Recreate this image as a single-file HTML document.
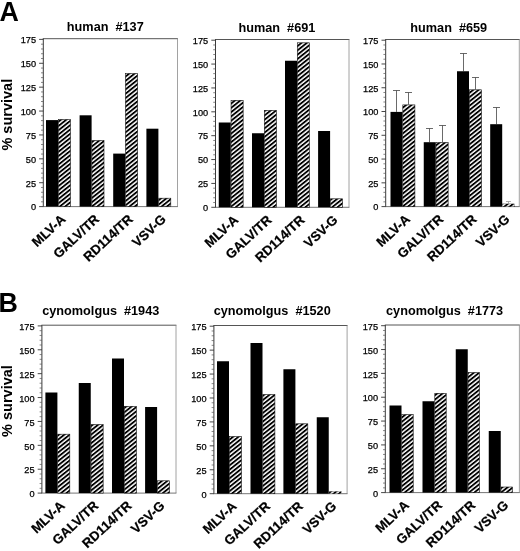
<!DOCTYPE html><html><head><meta charset="utf-8"><title>Figure</title>
<style>html,body{margin:0;padding:0;background:#fff}svg{display:block}text{font-family:"Liberation Sans", sans-serif;fill:#000}</style></head><body>
<svg width="520" height="551" viewBox="0 0 520 551">
<defs><pattern id="h" patternUnits="userSpaceOnUse" width="3.35" height="10" patternTransform="rotate(51.3)"><rect x="0" y="0" width="3.35" height="10" fill="#fff"/><rect x="0" y="0" width="1.85" height="10" fill="#000"/></pattern></defs>
<rect width="520" height="551" fill="#fff"/>
<text x="-0.5" y="20.8" font-size="26.8" font-weight="bold">A</text>
<text x="-1.4" y="311.6" font-size="26.8" font-weight="bold">B</text>
<text transform="translate(12.3,114.7) rotate(-90)" text-anchor="middle" font-size="14.5" font-weight="bold">% survival</text>
<text transform="translate(12.3,401) rotate(-90)" text-anchor="middle" font-size="14.5" font-weight="bold">% survival</text>
<g>
<text x="105.3" y="30.5" text-anchor="middle" font-size="12.7" font-weight="bold" xml:space="preserve" style="white-space:pre">human  #137</text>
<path d="M42.8 38.7H177.9" stroke="#555" stroke-width="1" fill="none"/>
<path d="M177.5 38.7V206.6" stroke="#8a8a8a" stroke-width="0.8" fill="none"/>
<path d="M42.8 206.6H177.9" stroke="#666" stroke-width="0.9" fill="none"/>
<path d="M43.3 38.7V206.6" stroke="#3a3a3a" stroke-width="1" fill="none"/>
<line x1="39.1" y1="206.6" x2="43.3" y2="206.6" stroke="#333" stroke-width="0.9"/>
<text x="36" y="210.4" text-anchor="end" font-size="9.2" stroke="#000" stroke-width="0.25">0</text>
<line x1="41" y1="201.823" x2="43.3" y2="201.823" stroke="#555" stroke-width="0.7"/>
<line x1="41" y1="197.046" x2="43.3" y2="197.046" stroke="#555" stroke-width="0.7"/>
<line x1="41" y1="192.269" x2="43.3" y2="192.269" stroke="#555" stroke-width="0.7"/>
<line x1="41" y1="187.491" x2="43.3" y2="187.491" stroke="#555" stroke-width="0.7"/>
<line x1="39.1" y1="182.714" x2="43.3" y2="182.714" stroke="#333" stroke-width="0.9"/>
<text x="36" y="186.514" text-anchor="end" font-size="9.2" stroke="#000" stroke-width="0.25">25</text>
<line x1="41" y1="177.937" x2="43.3" y2="177.937" stroke="#555" stroke-width="0.7"/>
<line x1="41" y1="173.16" x2="43.3" y2="173.16" stroke="#555" stroke-width="0.7"/>
<line x1="41" y1="168.383" x2="43.3" y2="168.383" stroke="#555" stroke-width="0.7"/>
<line x1="41" y1="163.606" x2="43.3" y2="163.606" stroke="#555" stroke-width="0.7"/>
<line x1="39.1" y1="158.829" x2="43.3" y2="158.829" stroke="#333" stroke-width="0.9"/>
<text x="36" y="162.629" text-anchor="end" font-size="9.2" stroke="#000" stroke-width="0.25">50</text>
<line x1="41" y1="154.051" x2="43.3" y2="154.051" stroke="#555" stroke-width="0.7"/>
<line x1="41" y1="149.274" x2="43.3" y2="149.274" stroke="#555" stroke-width="0.7"/>
<line x1="41" y1="144.497" x2="43.3" y2="144.497" stroke="#555" stroke-width="0.7"/>
<line x1="41" y1="139.72" x2="43.3" y2="139.72" stroke="#555" stroke-width="0.7"/>
<line x1="39.1" y1="134.943" x2="43.3" y2="134.943" stroke="#333" stroke-width="0.9"/>
<text x="36" y="138.743" text-anchor="end" font-size="9.2" stroke="#000" stroke-width="0.25">75</text>
<line x1="41" y1="130.166" x2="43.3" y2="130.166" stroke="#555" stroke-width="0.7"/>
<line x1="41" y1="125.389" x2="43.3" y2="125.389" stroke="#555" stroke-width="0.7"/>
<line x1="41" y1="120.611" x2="43.3" y2="120.611" stroke="#555" stroke-width="0.7"/>
<line x1="41" y1="115.834" x2="43.3" y2="115.834" stroke="#555" stroke-width="0.7"/>
<line x1="39.1" y1="111.057" x2="43.3" y2="111.057" stroke="#333" stroke-width="0.9"/>
<text x="36" y="114.857" text-anchor="end" font-size="9.2" stroke="#000" stroke-width="0.25">100</text>
<line x1="41" y1="106.28" x2="43.3" y2="106.28" stroke="#555" stroke-width="0.7"/>
<line x1="41" y1="101.503" x2="43.3" y2="101.503" stroke="#555" stroke-width="0.7"/>
<line x1="41" y1="96.7257" x2="43.3" y2="96.7257" stroke="#555" stroke-width="0.7"/>
<line x1="41" y1="91.9486" x2="43.3" y2="91.9486" stroke="#555" stroke-width="0.7"/>
<line x1="39.1" y1="87.1714" x2="43.3" y2="87.1714" stroke="#333" stroke-width="0.9"/>
<text x="36" y="90.9714" text-anchor="end" font-size="9.2" stroke="#000" stroke-width="0.25">125</text>
<line x1="41" y1="82.3943" x2="43.3" y2="82.3943" stroke="#555" stroke-width="0.7"/>
<line x1="41" y1="77.6171" x2="43.3" y2="77.6171" stroke="#555" stroke-width="0.7"/>
<line x1="41" y1="72.84" x2="43.3" y2="72.84" stroke="#555" stroke-width="0.7"/>
<line x1="41" y1="68.0629" x2="43.3" y2="68.0629" stroke="#555" stroke-width="0.7"/>
<line x1="39.1" y1="63.2857" x2="43.3" y2="63.2857" stroke="#333" stroke-width="0.9"/>
<text x="36" y="67.0857" text-anchor="end" font-size="9.2" stroke="#000" stroke-width="0.25">150</text>
<line x1="41" y1="58.5086" x2="43.3" y2="58.5086" stroke="#555" stroke-width="0.7"/>
<line x1="41" y1="53.7314" x2="43.3" y2="53.7314" stroke="#555" stroke-width="0.7"/>
<line x1="41" y1="48.9543" x2="43.3" y2="48.9543" stroke="#555" stroke-width="0.7"/>
<line x1="41" y1="44.1771" x2="43.3" y2="44.1771" stroke="#555" stroke-width="0.7"/>
<line x1="39.1" y1="39.4" x2="43.3" y2="39.4" stroke="#333" stroke-width="0.9"/>
<text x="36" y="43.2" text-anchor="end" font-size="9.2" stroke="#000" stroke-width="0.25">175</text>
<rect x="46" y="120.1" width="12" height="86.5" fill="#000"/>
<rect x="58.3" y="119.5" width="12.1" height="87.1" fill="url(#h)" stroke="#111" stroke-width="0.6"/>
<text transform="translate(66.4,220.2) rotate(-43)" text-anchor="end" font-size="13.2" stroke="#000" stroke-width="0.25" font-weight="bold">MLV-A</text>
<rect x="79.6" y="115.3" width="12" height="91.3" fill="#000"/>
<rect x="91.9" y="140.5" width="12.1" height="66.1" fill="url(#h)" stroke="#111" stroke-width="0.6"/>
<text transform="translate(100,220.2) rotate(-43)" text-anchor="end" font-size="13.2" stroke="#000" stroke-width="0.25" font-weight="bold">GALV/TR</text>
<rect x="113.2" y="153.6" width="12" height="53" fill="#000"/>
<rect x="125.5" y="73.5" width="12.1" height="133.1" fill="url(#h)" stroke="#111" stroke-width="0.6"/>
<text transform="translate(133.6,220.2) rotate(-43)" text-anchor="end" font-size="13.2" stroke="#000" stroke-width="0.25" font-weight="bold">RD114/TR</text>
<rect x="146.4" y="128.7" width="12" height="77.9" fill="#000"/>
<rect x="158.7" y="198.2" width="12.1" height="8.4" fill="url(#h)" stroke="#111" stroke-width="0.6"/>
<text transform="translate(166.8,220.2) rotate(-43)" text-anchor="end" font-size="13.2" stroke="#000" stroke-width="0.25" font-weight="bold">VSV-G</text>
</g>
<g>
<text x="276.9" y="31.5" text-anchor="middle" font-size="12.7" font-weight="bold" xml:space="preserve" style="white-space:pre">human  #691</text>
<path d="M215 39.5H349.4" stroke="#555" stroke-width="1" fill="none"/>
<path d="M349 39.5V207.3" stroke="#8a8a8a" stroke-width="0.8" fill="none"/>
<path d="M215 207.3H349.4" stroke="#666" stroke-width="0.9" fill="none"/>
<path d="M215.5 39.5V207.3" stroke="#3a3a3a" stroke-width="1" fill="none"/>
<line x1="211.3" y1="207.3" x2="215.5" y2="207.3" stroke="#333" stroke-width="0.9"/>
<text x="208.2" y="211.1" text-anchor="end" font-size="9.2" stroke="#000" stroke-width="0.25">0</text>
<line x1="213.2" y1="202.526" x2="215.5" y2="202.526" stroke="#555" stroke-width="0.7"/>
<line x1="213.2" y1="197.751" x2="215.5" y2="197.751" stroke="#555" stroke-width="0.7"/>
<line x1="213.2" y1="192.977" x2="215.5" y2="192.977" stroke="#555" stroke-width="0.7"/>
<line x1="213.2" y1="188.203" x2="215.5" y2="188.203" stroke="#555" stroke-width="0.7"/>
<line x1="211.3" y1="183.429" x2="215.5" y2="183.429" stroke="#333" stroke-width="0.9"/>
<text x="208.2" y="187.229" text-anchor="end" font-size="9.2" stroke="#000" stroke-width="0.25">25</text>
<line x1="213.2" y1="178.654" x2="215.5" y2="178.654" stroke="#555" stroke-width="0.7"/>
<line x1="213.2" y1="173.88" x2="215.5" y2="173.88" stroke="#555" stroke-width="0.7"/>
<line x1="213.2" y1="169.106" x2="215.5" y2="169.106" stroke="#555" stroke-width="0.7"/>
<line x1="213.2" y1="164.331" x2="215.5" y2="164.331" stroke="#555" stroke-width="0.7"/>
<line x1="211.3" y1="159.557" x2="215.5" y2="159.557" stroke="#333" stroke-width="0.9"/>
<text x="208.2" y="163.357" text-anchor="end" font-size="9.2" stroke="#000" stroke-width="0.25">50</text>
<line x1="213.2" y1="154.783" x2="215.5" y2="154.783" stroke="#555" stroke-width="0.7"/>
<line x1="213.2" y1="150.009" x2="215.5" y2="150.009" stroke="#555" stroke-width="0.7"/>
<line x1="213.2" y1="145.234" x2="215.5" y2="145.234" stroke="#555" stroke-width="0.7"/>
<line x1="213.2" y1="140.46" x2="215.5" y2="140.46" stroke="#555" stroke-width="0.7"/>
<line x1="211.3" y1="135.686" x2="215.5" y2="135.686" stroke="#333" stroke-width="0.9"/>
<text x="208.2" y="139.486" text-anchor="end" font-size="9.2" stroke="#000" stroke-width="0.25">75</text>
<line x1="213.2" y1="130.911" x2="215.5" y2="130.911" stroke="#555" stroke-width="0.7"/>
<line x1="213.2" y1="126.137" x2="215.5" y2="126.137" stroke="#555" stroke-width="0.7"/>
<line x1="213.2" y1="121.363" x2="215.5" y2="121.363" stroke="#555" stroke-width="0.7"/>
<line x1="213.2" y1="116.589" x2="215.5" y2="116.589" stroke="#555" stroke-width="0.7"/>
<line x1="211.3" y1="111.814" x2="215.5" y2="111.814" stroke="#333" stroke-width="0.9"/>
<text x="208.2" y="115.614" text-anchor="end" font-size="9.2" stroke="#000" stroke-width="0.25">100</text>
<line x1="213.2" y1="107.04" x2="215.5" y2="107.04" stroke="#555" stroke-width="0.7"/>
<line x1="213.2" y1="102.266" x2="215.5" y2="102.266" stroke="#555" stroke-width="0.7"/>
<line x1="213.2" y1="97.4914" x2="215.5" y2="97.4914" stroke="#555" stroke-width="0.7"/>
<line x1="213.2" y1="92.7171" x2="215.5" y2="92.7171" stroke="#555" stroke-width="0.7"/>
<line x1="211.3" y1="87.9429" x2="215.5" y2="87.9429" stroke="#333" stroke-width="0.9"/>
<text x="208.2" y="91.7429" text-anchor="end" font-size="9.2" stroke="#000" stroke-width="0.25">125</text>
<line x1="213.2" y1="83.1686" x2="215.5" y2="83.1686" stroke="#555" stroke-width="0.7"/>
<line x1="213.2" y1="78.3943" x2="215.5" y2="78.3943" stroke="#555" stroke-width="0.7"/>
<line x1="213.2" y1="73.62" x2="215.5" y2="73.62" stroke="#555" stroke-width="0.7"/>
<line x1="213.2" y1="68.8457" x2="215.5" y2="68.8457" stroke="#555" stroke-width="0.7"/>
<line x1="211.3" y1="64.0714" x2="215.5" y2="64.0714" stroke="#333" stroke-width="0.9"/>
<text x="208.2" y="67.8714" text-anchor="end" font-size="9.2" stroke="#000" stroke-width="0.25">150</text>
<line x1="213.2" y1="59.2971" x2="215.5" y2="59.2971" stroke="#555" stroke-width="0.7"/>
<line x1="213.2" y1="54.5229" x2="215.5" y2="54.5229" stroke="#555" stroke-width="0.7"/>
<line x1="213.2" y1="49.7486" x2="215.5" y2="49.7486" stroke="#555" stroke-width="0.7"/>
<line x1="213.2" y1="44.9743" x2="215.5" y2="44.9743" stroke="#555" stroke-width="0.7"/>
<line x1="211.3" y1="40.2" x2="215.5" y2="40.2" stroke="#333" stroke-width="0.9"/>
<text x="208.2" y="44" text-anchor="end" font-size="9.2" stroke="#000" stroke-width="0.25">175</text>
<rect x="218.75" y="122.5" width="12" height="84.8" fill="#000"/>
<rect x="231.05" y="100.3" width="12.1" height="107" fill="url(#h)" stroke="#111" stroke-width="0.6"/>
<text transform="translate(239.15,220.9) rotate(-43)" text-anchor="end" font-size="13.2" stroke="#000" stroke-width="0.25" font-weight="bold">MLV-A</text>
<rect x="252" y="133.25" width="12" height="74.05" fill="#000"/>
<rect x="264.3" y="110.3" width="12.1" height="97" fill="url(#h)" stroke="#111" stroke-width="0.6"/>
<text transform="translate(272.4,220.9) rotate(-43)" text-anchor="end" font-size="13.2" stroke="#000" stroke-width="0.25" font-weight="bold">GALV/TR</text>
<rect x="285" y="60.75" width="12" height="146.55" fill="#000"/>
<rect x="297.3" y="42.8" width="12.1" height="164.5" fill="url(#h)" stroke="#111" stroke-width="0.6"/>
<text transform="translate(305.4,220.9) rotate(-43)" text-anchor="end" font-size="13.2" stroke="#000" stroke-width="0.25" font-weight="bold">RD114/TR</text>
<rect x="318.1" y="131" width="12" height="76.3" fill="#000"/>
<rect x="330.4" y="198.8" width="12.1" height="8.5" fill="url(#h)" stroke="#111" stroke-width="0.6"/>
<text transform="translate(338.5,220.9) rotate(-43)" text-anchor="end" font-size="13.2" stroke="#000" stroke-width="0.25" font-weight="bold">VSV-G</text>
</g>
<g>
<text x="448.75" y="31.5" text-anchor="middle" font-size="12.7" font-weight="bold" xml:space="preserve" style="white-space:pre">human  #659</text>
<path d="M385.2 39.5H519.7" stroke="#555" stroke-width="1" fill="none"/>
<path d="M519.3 39.5V206.6" stroke="#8a8a8a" stroke-width="0.8" fill="none"/>
<path d="M385.2 206.6H519.7" stroke="#666" stroke-width="0.9" fill="none"/>
<path d="M385.7 39.5V206.6" stroke="#3a3a3a" stroke-width="1" fill="none"/>
<line x1="381.5" y1="206.6" x2="385.7" y2="206.6" stroke="#333" stroke-width="0.9"/>
<text x="378.4" y="210.4" text-anchor="end" font-size="9.2" stroke="#000" stroke-width="0.25">0</text>
<line x1="383.4" y1="201.846" x2="385.7" y2="201.846" stroke="#555" stroke-width="0.7"/>
<line x1="383.4" y1="197.091" x2="385.7" y2="197.091" stroke="#555" stroke-width="0.7"/>
<line x1="383.4" y1="192.337" x2="385.7" y2="192.337" stroke="#555" stroke-width="0.7"/>
<line x1="383.4" y1="187.583" x2="385.7" y2="187.583" stroke="#555" stroke-width="0.7"/>
<line x1="381.5" y1="182.829" x2="385.7" y2="182.829" stroke="#333" stroke-width="0.9"/>
<text x="378.4" y="186.629" text-anchor="end" font-size="9.2" stroke="#000" stroke-width="0.25">25</text>
<line x1="383.4" y1="178.074" x2="385.7" y2="178.074" stroke="#555" stroke-width="0.7"/>
<line x1="383.4" y1="173.32" x2="385.7" y2="173.32" stroke="#555" stroke-width="0.7"/>
<line x1="383.4" y1="168.566" x2="385.7" y2="168.566" stroke="#555" stroke-width="0.7"/>
<line x1="383.4" y1="163.811" x2="385.7" y2="163.811" stroke="#555" stroke-width="0.7"/>
<line x1="381.5" y1="159.057" x2="385.7" y2="159.057" stroke="#333" stroke-width="0.9"/>
<text x="378.4" y="162.857" text-anchor="end" font-size="9.2" stroke="#000" stroke-width="0.25">50</text>
<line x1="383.4" y1="154.303" x2="385.7" y2="154.303" stroke="#555" stroke-width="0.7"/>
<line x1="383.4" y1="149.549" x2="385.7" y2="149.549" stroke="#555" stroke-width="0.7"/>
<line x1="383.4" y1="144.794" x2="385.7" y2="144.794" stroke="#555" stroke-width="0.7"/>
<line x1="383.4" y1="140.04" x2="385.7" y2="140.04" stroke="#555" stroke-width="0.7"/>
<line x1="381.5" y1="135.286" x2="385.7" y2="135.286" stroke="#333" stroke-width="0.9"/>
<text x="378.4" y="139.086" text-anchor="end" font-size="9.2" stroke="#000" stroke-width="0.25">75</text>
<line x1="383.4" y1="130.531" x2="385.7" y2="130.531" stroke="#555" stroke-width="0.7"/>
<line x1="383.4" y1="125.777" x2="385.7" y2="125.777" stroke="#555" stroke-width="0.7"/>
<line x1="383.4" y1="121.023" x2="385.7" y2="121.023" stroke="#555" stroke-width="0.7"/>
<line x1="383.4" y1="116.269" x2="385.7" y2="116.269" stroke="#555" stroke-width="0.7"/>
<line x1="381.5" y1="111.514" x2="385.7" y2="111.514" stroke="#333" stroke-width="0.9"/>
<text x="378.4" y="115.314" text-anchor="end" font-size="9.2" stroke="#000" stroke-width="0.25">100</text>
<line x1="383.4" y1="106.76" x2="385.7" y2="106.76" stroke="#555" stroke-width="0.7"/>
<line x1="383.4" y1="102.006" x2="385.7" y2="102.006" stroke="#555" stroke-width="0.7"/>
<line x1="383.4" y1="97.2514" x2="385.7" y2="97.2514" stroke="#555" stroke-width="0.7"/>
<line x1="383.4" y1="92.4971" x2="385.7" y2="92.4971" stroke="#555" stroke-width="0.7"/>
<line x1="381.5" y1="87.7429" x2="385.7" y2="87.7429" stroke="#333" stroke-width="0.9"/>
<text x="378.4" y="91.5429" text-anchor="end" font-size="9.2" stroke="#000" stroke-width="0.25">125</text>
<line x1="383.4" y1="82.9886" x2="385.7" y2="82.9886" stroke="#555" stroke-width="0.7"/>
<line x1="383.4" y1="78.2343" x2="385.7" y2="78.2343" stroke="#555" stroke-width="0.7"/>
<line x1="383.4" y1="73.48" x2="385.7" y2="73.48" stroke="#555" stroke-width="0.7"/>
<line x1="383.4" y1="68.7257" x2="385.7" y2="68.7257" stroke="#555" stroke-width="0.7"/>
<line x1="381.5" y1="63.9714" x2="385.7" y2="63.9714" stroke="#333" stroke-width="0.9"/>
<text x="378.4" y="67.7714" text-anchor="end" font-size="9.2" stroke="#000" stroke-width="0.25">150</text>
<line x1="383.4" y1="59.2171" x2="385.7" y2="59.2171" stroke="#555" stroke-width="0.7"/>
<line x1="383.4" y1="54.4629" x2="385.7" y2="54.4629" stroke="#555" stroke-width="0.7"/>
<line x1="383.4" y1="49.7086" x2="385.7" y2="49.7086" stroke="#555" stroke-width="0.7"/>
<line x1="383.4" y1="44.9543" x2="385.7" y2="44.9543" stroke="#555" stroke-width="0.7"/>
<line x1="381.5" y1="40.2" x2="385.7" y2="40.2" stroke="#333" stroke-width="0.9"/>
<text x="378.4" y="44" text-anchor="end" font-size="9.2" stroke="#000" stroke-width="0.25">175</text>
<line x1="396.5" y1="90.5" x2="396.5" y2="111.9" stroke="#444" stroke-width="0.8"/>
<line x1="393" y1="90.5" x2="400" y2="90.5" stroke="#444" stroke-width="0.8"/>
<line x1="408.5" y1="92.5" x2="408.5" y2="104.6" stroke="#444" stroke-width="0.8"/>
<line x1="405" y1="92.5" x2="412" y2="92.5" stroke="#444" stroke-width="0.8"/>
<rect x="390.5" y="111.9" width="12" height="94.7" fill="#000"/>
<rect x="402.8" y="104.9" width="12.1" height="101.7" fill="url(#h)" stroke="#111" stroke-width="0.6"/>
<text transform="translate(410.9,220.2) rotate(-43)" text-anchor="end" font-size="13.2" stroke="#000" stroke-width="0.25" font-weight="bold">MLV-A</text>
<line x1="429.5" y1="128.5" x2="429.5" y2="142.2" stroke="#444" stroke-width="0.8"/>
<line x1="426" y1="128.5" x2="433" y2="128.5" stroke="#444" stroke-width="0.8"/>
<line x1="442.5" y1="125.5" x2="442.5" y2="142.2" stroke="#444" stroke-width="0.8"/>
<line x1="439" y1="125.5" x2="446" y2="125.5" stroke="#444" stroke-width="0.8"/>
<rect x="423.75" y="142.2" width="12" height="64.4" fill="#000"/>
<rect x="436.05" y="142.5" width="12.1" height="64.1" fill="url(#h)" stroke="#111" stroke-width="0.6"/>
<text transform="translate(444.15,220.2) rotate(-43)" text-anchor="end" font-size="13.2" stroke="#000" stroke-width="0.25" font-weight="bold">GALV/TR</text>
<line x1="463.5" y1="53.5" x2="463.5" y2="71.25" stroke="#444" stroke-width="0.8"/>
<line x1="460" y1="53.5" x2="467" y2="53.5" stroke="#444" stroke-width="0.8"/>
<line x1="475.5" y1="77.5" x2="475.5" y2="89.5" stroke="#444" stroke-width="0.8"/>
<line x1="472" y1="77.5" x2="479" y2="77.5" stroke="#444" stroke-width="0.8"/>
<rect x="457" y="71.25" width="12" height="135.35" fill="#000"/>
<rect x="469.3" y="89.8" width="12.1" height="116.8" fill="url(#h)" stroke="#111" stroke-width="0.6"/>
<text transform="translate(477.4,220.2) rotate(-43)" text-anchor="end" font-size="13.2" stroke="#000" stroke-width="0.25" font-weight="bold">RD114/TR</text>
<line x1="496.5" y1="107.5" x2="496.5" y2="124.2" stroke="#444" stroke-width="0.8"/>
<line x1="493" y1="107.5" x2="500" y2="107.5" stroke="#444" stroke-width="0.8"/>
<line x1="508.5" y1="201.5" x2="508.5" y2="203.6" stroke="#999" stroke-width="0.8"/>
<line x1="506" y1="201.5" x2="511" y2="201.5" stroke="#999" stroke-width="0.8"/>
<rect x="490.2" y="124.2" width="12" height="82.4" fill="#000"/>
<rect x="502.5" y="203.9" width="12.1" height="2.7" fill="url(#h)" stroke="#111" stroke-width="0.25"/>
<text transform="translate(510.6,220.2) rotate(-43)" text-anchor="end" font-size="13.2" stroke="#000" stroke-width="0.25" font-weight="bold">VSV-G</text>
</g>
<g>
<text x="100.75" y="315" text-anchor="middle" font-size="12.7" font-weight="bold" xml:space="preserve" style="white-space:pre">cynomolgus  #1943</text>
<path d="M41.4 325.2H176.4" stroke="#555" stroke-width="1" fill="none"/>
<path d="M176 325.2V493.1" stroke="#8a8a8a" stroke-width="0.8" fill="none"/>
<path d="M41.4 493.1H176.4" stroke="#666" stroke-width="0.9" fill="none"/>
<path d="M41.9 325.2V493.1" stroke="#3a3a3a" stroke-width="1" fill="none"/>
<line x1="37.7" y1="493.1" x2="41.9" y2="493.1" stroke="#333" stroke-width="0.9"/>
<text x="34.6" y="497.3" text-anchor="end" font-size="9.2" stroke="#000" stroke-width="0.25">0</text>
<line x1="39.6" y1="488.323" x2="41.9" y2="488.323" stroke="#555" stroke-width="0.7"/>
<line x1="39.6" y1="483.546" x2="41.9" y2="483.546" stroke="#555" stroke-width="0.7"/>
<line x1="39.6" y1="478.769" x2="41.9" y2="478.769" stroke="#555" stroke-width="0.7"/>
<line x1="39.6" y1="473.991" x2="41.9" y2="473.991" stroke="#555" stroke-width="0.7"/>
<line x1="37.7" y1="469.214" x2="41.9" y2="469.214" stroke="#333" stroke-width="0.9"/>
<text x="34.6" y="473.414" text-anchor="end" font-size="9.2" stroke="#000" stroke-width="0.25">25</text>
<line x1="39.6" y1="464.437" x2="41.9" y2="464.437" stroke="#555" stroke-width="0.7"/>
<line x1="39.6" y1="459.66" x2="41.9" y2="459.66" stroke="#555" stroke-width="0.7"/>
<line x1="39.6" y1="454.883" x2="41.9" y2="454.883" stroke="#555" stroke-width="0.7"/>
<line x1="39.6" y1="450.106" x2="41.9" y2="450.106" stroke="#555" stroke-width="0.7"/>
<line x1="37.7" y1="445.329" x2="41.9" y2="445.329" stroke="#333" stroke-width="0.9"/>
<text x="34.6" y="449.529" text-anchor="end" font-size="9.2" stroke="#000" stroke-width="0.25">50</text>
<line x1="39.6" y1="440.551" x2="41.9" y2="440.551" stroke="#555" stroke-width="0.7"/>
<line x1="39.6" y1="435.774" x2="41.9" y2="435.774" stroke="#555" stroke-width="0.7"/>
<line x1="39.6" y1="430.997" x2="41.9" y2="430.997" stroke="#555" stroke-width="0.7"/>
<line x1="39.6" y1="426.22" x2="41.9" y2="426.22" stroke="#555" stroke-width="0.7"/>
<line x1="37.7" y1="421.443" x2="41.9" y2="421.443" stroke="#333" stroke-width="0.9"/>
<text x="34.6" y="425.643" text-anchor="end" font-size="9.2" stroke="#000" stroke-width="0.25">75</text>
<line x1="39.6" y1="416.666" x2="41.9" y2="416.666" stroke="#555" stroke-width="0.7"/>
<line x1="39.6" y1="411.889" x2="41.9" y2="411.889" stroke="#555" stroke-width="0.7"/>
<line x1="39.6" y1="407.111" x2="41.9" y2="407.111" stroke="#555" stroke-width="0.7"/>
<line x1="39.6" y1="402.334" x2="41.9" y2="402.334" stroke="#555" stroke-width="0.7"/>
<line x1="37.7" y1="397.557" x2="41.9" y2="397.557" stroke="#333" stroke-width="0.9"/>
<text x="34.6" y="401.757" text-anchor="end" font-size="9.2" stroke="#000" stroke-width="0.25">100</text>
<line x1="39.6" y1="392.78" x2="41.9" y2="392.78" stroke="#555" stroke-width="0.7"/>
<line x1="39.6" y1="388.003" x2="41.9" y2="388.003" stroke="#555" stroke-width="0.7"/>
<line x1="39.6" y1="383.226" x2="41.9" y2="383.226" stroke="#555" stroke-width="0.7"/>
<line x1="39.6" y1="378.449" x2="41.9" y2="378.449" stroke="#555" stroke-width="0.7"/>
<line x1="37.7" y1="373.671" x2="41.9" y2="373.671" stroke="#333" stroke-width="0.9"/>
<text x="34.6" y="377.871" text-anchor="end" font-size="9.2" stroke="#000" stroke-width="0.25">125</text>
<line x1="39.6" y1="368.894" x2="41.9" y2="368.894" stroke="#555" stroke-width="0.7"/>
<line x1="39.6" y1="364.117" x2="41.9" y2="364.117" stroke="#555" stroke-width="0.7"/>
<line x1="39.6" y1="359.34" x2="41.9" y2="359.34" stroke="#555" stroke-width="0.7"/>
<line x1="39.6" y1="354.563" x2="41.9" y2="354.563" stroke="#555" stroke-width="0.7"/>
<line x1="37.7" y1="349.786" x2="41.9" y2="349.786" stroke="#333" stroke-width="0.9"/>
<text x="34.6" y="353.986" text-anchor="end" font-size="9.2" stroke="#000" stroke-width="0.25">150</text>
<line x1="39.6" y1="345.009" x2="41.9" y2="345.009" stroke="#555" stroke-width="0.7"/>
<line x1="39.6" y1="340.231" x2="41.9" y2="340.231" stroke="#555" stroke-width="0.7"/>
<line x1="39.6" y1="335.454" x2="41.9" y2="335.454" stroke="#555" stroke-width="0.7"/>
<line x1="39.6" y1="330.677" x2="41.9" y2="330.677" stroke="#555" stroke-width="0.7"/>
<line x1="37.7" y1="325.9" x2="41.9" y2="325.9" stroke="#333" stroke-width="0.9"/>
<text x="34.6" y="330.1" text-anchor="end" font-size="9.2" stroke="#000" stroke-width="0.25">175</text>
<rect x="45.4" y="392.5" width="12" height="100.6" fill="#000"/>
<rect x="57.7" y="434.2" width="12.1" height="58.9" fill="url(#h)" stroke="#111" stroke-width="0.6"/>
<text transform="translate(65.8,506.7) rotate(-43)" text-anchor="end" font-size="13.2" stroke="#000" stroke-width="0.25" font-weight="bold">MLV-A</text>
<rect x="78.75" y="383" width="12" height="110.1" fill="#000"/>
<rect x="91.05" y="424.55" width="12.1" height="68.55" fill="url(#h)" stroke="#111" stroke-width="0.6"/>
<text transform="translate(99.15,506.7) rotate(-43)" text-anchor="end" font-size="13.2" stroke="#000" stroke-width="0.25" font-weight="bold">GALV/TR</text>
<rect x="112" y="358.5" width="12" height="134.6" fill="#000"/>
<rect x="124.3" y="406.3" width="12.1" height="86.8" fill="url(#h)" stroke="#111" stroke-width="0.6"/>
<text transform="translate(132.4,506.7) rotate(-43)" text-anchor="end" font-size="13.2" stroke="#000" stroke-width="0.25" font-weight="bold">RD114/TR</text>
<rect x="145.1" y="407" width="12" height="86.1" fill="#000"/>
<rect x="157.4" y="480.8" width="12.1" height="12.3" fill="url(#h)" stroke="#111" stroke-width="0.6"/>
<text transform="translate(165.5,506.7) rotate(-43)" text-anchor="end" font-size="13.2" stroke="#000" stroke-width="0.25" font-weight="bold">VSV-G</text>
</g>
<g>
<text x="272.2" y="315.4" text-anchor="middle" font-size="12.7" font-weight="bold" xml:space="preserve" style="white-space:pre">cynomolgus  #1520</text>
<path d="M213.4 325.5H347.5" stroke="#555" stroke-width="1" fill="none"/>
<path d="M347.1 325.5V493.7" stroke="#8a8a8a" stroke-width="0.8" fill="none"/>
<path d="M213.4 493.7H347.5" stroke="#666" stroke-width="0.9" fill="none"/>
<path d="M213.9 325.5V493.7" stroke="#3a3a3a" stroke-width="1" fill="none"/>
<line x1="209.7" y1="493.7" x2="213.9" y2="493.7" stroke="#333" stroke-width="0.9"/>
<text x="206.6" y="497.9" text-anchor="end" font-size="9.2" stroke="#000" stroke-width="0.25">0</text>
<line x1="211.6" y1="488.914" x2="213.9" y2="488.914" stroke="#555" stroke-width="0.7"/>
<line x1="211.6" y1="484.129" x2="213.9" y2="484.129" stroke="#555" stroke-width="0.7"/>
<line x1="211.6" y1="479.343" x2="213.9" y2="479.343" stroke="#555" stroke-width="0.7"/>
<line x1="211.6" y1="474.557" x2="213.9" y2="474.557" stroke="#555" stroke-width="0.7"/>
<line x1="209.7" y1="469.771" x2="213.9" y2="469.771" stroke="#333" stroke-width="0.9"/>
<text x="206.6" y="473.971" text-anchor="end" font-size="9.2" stroke="#000" stroke-width="0.25">25</text>
<line x1="211.6" y1="464.986" x2="213.9" y2="464.986" stroke="#555" stroke-width="0.7"/>
<line x1="211.6" y1="460.2" x2="213.9" y2="460.2" stroke="#555" stroke-width="0.7"/>
<line x1="211.6" y1="455.414" x2="213.9" y2="455.414" stroke="#555" stroke-width="0.7"/>
<line x1="211.6" y1="450.629" x2="213.9" y2="450.629" stroke="#555" stroke-width="0.7"/>
<line x1="209.7" y1="445.843" x2="213.9" y2="445.843" stroke="#333" stroke-width="0.9"/>
<text x="206.6" y="450.043" text-anchor="end" font-size="9.2" stroke="#000" stroke-width="0.25">50</text>
<line x1="211.6" y1="441.057" x2="213.9" y2="441.057" stroke="#555" stroke-width="0.7"/>
<line x1="211.6" y1="436.271" x2="213.9" y2="436.271" stroke="#555" stroke-width="0.7"/>
<line x1="211.6" y1="431.486" x2="213.9" y2="431.486" stroke="#555" stroke-width="0.7"/>
<line x1="211.6" y1="426.7" x2="213.9" y2="426.7" stroke="#555" stroke-width="0.7"/>
<line x1="209.7" y1="421.914" x2="213.9" y2="421.914" stroke="#333" stroke-width="0.9"/>
<text x="206.6" y="426.114" text-anchor="end" font-size="9.2" stroke="#000" stroke-width="0.25">75</text>
<line x1="211.6" y1="417.129" x2="213.9" y2="417.129" stroke="#555" stroke-width="0.7"/>
<line x1="211.6" y1="412.343" x2="213.9" y2="412.343" stroke="#555" stroke-width="0.7"/>
<line x1="211.6" y1="407.557" x2="213.9" y2="407.557" stroke="#555" stroke-width="0.7"/>
<line x1="211.6" y1="402.771" x2="213.9" y2="402.771" stroke="#555" stroke-width="0.7"/>
<line x1="209.7" y1="397.986" x2="213.9" y2="397.986" stroke="#333" stroke-width="0.9"/>
<text x="206.6" y="402.186" text-anchor="end" font-size="9.2" stroke="#000" stroke-width="0.25">100</text>
<line x1="211.6" y1="393.2" x2="213.9" y2="393.2" stroke="#555" stroke-width="0.7"/>
<line x1="211.6" y1="388.414" x2="213.9" y2="388.414" stroke="#555" stroke-width="0.7"/>
<line x1="211.6" y1="383.629" x2="213.9" y2="383.629" stroke="#555" stroke-width="0.7"/>
<line x1="211.6" y1="378.843" x2="213.9" y2="378.843" stroke="#555" stroke-width="0.7"/>
<line x1="209.7" y1="374.057" x2="213.9" y2="374.057" stroke="#333" stroke-width="0.9"/>
<text x="206.6" y="378.257" text-anchor="end" font-size="9.2" stroke="#000" stroke-width="0.25">125</text>
<line x1="211.6" y1="369.271" x2="213.9" y2="369.271" stroke="#555" stroke-width="0.7"/>
<line x1="211.6" y1="364.486" x2="213.9" y2="364.486" stroke="#555" stroke-width="0.7"/>
<line x1="211.6" y1="359.7" x2="213.9" y2="359.7" stroke="#555" stroke-width="0.7"/>
<line x1="211.6" y1="354.914" x2="213.9" y2="354.914" stroke="#555" stroke-width="0.7"/>
<line x1="209.7" y1="350.129" x2="213.9" y2="350.129" stroke="#333" stroke-width="0.9"/>
<text x="206.6" y="354.329" text-anchor="end" font-size="9.2" stroke="#000" stroke-width="0.25">150</text>
<line x1="211.6" y1="345.343" x2="213.9" y2="345.343" stroke="#555" stroke-width="0.7"/>
<line x1="211.6" y1="340.557" x2="213.9" y2="340.557" stroke="#555" stroke-width="0.7"/>
<line x1="211.6" y1="335.771" x2="213.9" y2="335.771" stroke="#555" stroke-width="0.7"/>
<line x1="211.6" y1="330.986" x2="213.9" y2="330.986" stroke="#555" stroke-width="0.7"/>
<line x1="209.7" y1="326.2" x2="213.9" y2="326.2" stroke="#333" stroke-width="0.9"/>
<text x="206.6" y="330.4" text-anchor="end" font-size="9.2" stroke="#000" stroke-width="0.25">175</text>
<rect x="217" y="361.25" width="12" height="132.45" fill="#000"/>
<rect x="229.3" y="436.55" width="12.1" height="57.15" fill="url(#h)" stroke="#111" stroke-width="0.6"/>
<text transform="translate(237.4,507.3) rotate(-43)" text-anchor="end" font-size="13.2" stroke="#000" stroke-width="0.25" font-weight="bold">MLV-A</text>
<rect x="250.5" y="343" width="12" height="150.7" fill="#000"/>
<rect x="262.8" y="394.55" width="12.1" height="99.15" fill="url(#h)" stroke="#111" stroke-width="0.6"/>
<text transform="translate(270.9,507.3) rotate(-43)" text-anchor="end" font-size="13.2" stroke="#000" stroke-width="0.25" font-weight="bold">GALV/TR</text>
<rect x="283.4" y="369.25" width="12" height="124.45" fill="#000"/>
<rect x="295.7" y="423.8" width="12.1" height="69.9" fill="url(#h)" stroke="#111" stroke-width="0.6"/>
<text transform="translate(303.8,507.3) rotate(-43)" text-anchor="end" font-size="13.2" stroke="#000" stroke-width="0.25" font-weight="bold">RD114/TR</text>
<rect x="316.75" y="417.25" width="12" height="76.45" fill="#000"/>
<rect x="329.05" y="491.5" width="12.1" height="2.2" fill="url(#h)" stroke="#111" stroke-width="0.25"/>
<text transform="translate(337.15,507.3) rotate(-43)" text-anchor="end" font-size="13.2" stroke="#000" stroke-width="0.25" font-weight="bold">VSV-G</text>
</g>
<g>
<text x="444.6" y="314.8" text-anchor="middle" font-size="12.7" font-weight="bold" xml:space="preserve" style="white-space:pre">cynomolgus  #1773</text>
<path d="M384.8 325H519.8" stroke="#555" stroke-width="1" fill="none"/>
<path d="M519.4 325V492.6" stroke="#8a8a8a" stroke-width="0.8" fill="none"/>
<path d="M384.8 492.6H519.8" stroke="#666" stroke-width="0.9" fill="none"/>
<path d="M385.3 325V492.6" stroke="#3a3a3a" stroke-width="1" fill="none"/>
<line x1="381.1" y1="492.6" x2="385.3" y2="492.6" stroke="#333" stroke-width="0.9"/>
<text x="378" y="496.8" text-anchor="end" font-size="9.2" stroke="#000" stroke-width="0.25">0</text>
<line x1="383" y1="487.831" x2="385.3" y2="487.831" stroke="#555" stroke-width="0.7"/>
<line x1="383" y1="483.063" x2="385.3" y2="483.063" stroke="#555" stroke-width="0.7"/>
<line x1="383" y1="478.294" x2="385.3" y2="478.294" stroke="#555" stroke-width="0.7"/>
<line x1="383" y1="473.526" x2="385.3" y2="473.526" stroke="#555" stroke-width="0.7"/>
<line x1="381.1" y1="468.757" x2="385.3" y2="468.757" stroke="#333" stroke-width="0.9"/>
<text x="378" y="472.957" text-anchor="end" font-size="9.2" stroke="#000" stroke-width="0.25">25</text>
<line x1="383" y1="463.989" x2="385.3" y2="463.989" stroke="#555" stroke-width="0.7"/>
<line x1="383" y1="459.22" x2="385.3" y2="459.22" stroke="#555" stroke-width="0.7"/>
<line x1="383" y1="454.451" x2="385.3" y2="454.451" stroke="#555" stroke-width="0.7"/>
<line x1="383" y1="449.683" x2="385.3" y2="449.683" stroke="#555" stroke-width="0.7"/>
<line x1="381.1" y1="444.914" x2="385.3" y2="444.914" stroke="#333" stroke-width="0.9"/>
<text x="378" y="449.114" text-anchor="end" font-size="9.2" stroke="#000" stroke-width="0.25">50</text>
<line x1="383" y1="440.146" x2="385.3" y2="440.146" stroke="#555" stroke-width="0.7"/>
<line x1="383" y1="435.377" x2="385.3" y2="435.377" stroke="#555" stroke-width="0.7"/>
<line x1="383" y1="430.609" x2="385.3" y2="430.609" stroke="#555" stroke-width="0.7"/>
<line x1="383" y1="425.84" x2="385.3" y2="425.84" stroke="#555" stroke-width="0.7"/>
<line x1="381.1" y1="421.071" x2="385.3" y2="421.071" stroke="#333" stroke-width="0.9"/>
<text x="378" y="425.271" text-anchor="end" font-size="9.2" stroke="#000" stroke-width="0.25">75</text>
<line x1="383" y1="416.303" x2="385.3" y2="416.303" stroke="#555" stroke-width="0.7"/>
<line x1="383" y1="411.534" x2="385.3" y2="411.534" stroke="#555" stroke-width="0.7"/>
<line x1="383" y1="406.766" x2="385.3" y2="406.766" stroke="#555" stroke-width="0.7"/>
<line x1="383" y1="401.997" x2="385.3" y2="401.997" stroke="#555" stroke-width="0.7"/>
<line x1="381.1" y1="397.229" x2="385.3" y2="397.229" stroke="#333" stroke-width="0.9"/>
<text x="378" y="401.429" text-anchor="end" font-size="9.2" stroke="#000" stroke-width="0.25">100</text>
<line x1="383" y1="392.46" x2="385.3" y2="392.46" stroke="#555" stroke-width="0.7"/>
<line x1="383" y1="387.691" x2="385.3" y2="387.691" stroke="#555" stroke-width="0.7"/>
<line x1="383" y1="382.923" x2="385.3" y2="382.923" stroke="#555" stroke-width="0.7"/>
<line x1="383" y1="378.154" x2="385.3" y2="378.154" stroke="#555" stroke-width="0.7"/>
<line x1="381.1" y1="373.386" x2="385.3" y2="373.386" stroke="#333" stroke-width="0.9"/>
<text x="378" y="377.586" text-anchor="end" font-size="9.2" stroke="#000" stroke-width="0.25">125</text>
<line x1="383" y1="368.617" x2="385.3" y2="368.617" stroke="#555" stroke-width="0.7"/>
<line x1="383" y1="363.849" x2="385.3" y2="363.849" stroke="#555" stroke-width="0.7"/>
<line x1="383" y1="359.08" x2="385.3" y2="359.08" stroke="#555" stroke-width="0.7"/>
<line x1="383" y1="354.311" x2="385.3" y2="354.311" stroke="#555" stroke-width="0.7"/>
<line x1="381.1" y1="349.543" x2="385.3" y2="349.543" stroke="#333" stroke-width="0.9"/>
<text x="378" y="353.743" text-anchor="end" font-size="9.2" stroke="#000" stroke-width="0.25">150</text>
<line x1="383" y1="344.774" x2="385.3" y2="344.774" stroke="#555" stroke-width="0.7"/>
<line x1="383" y1="340.006" x2="385.3" y2="340.006" stroke="#555" stroke-width="0.7"/>
<line x1="383" y1="335.237" x2="385.3" y2="335.237" stroke="#555" stroke-width="0.7"/>
<line x1="383" y1="330.469" x2="385.3" y2="330.469" stroke="#555" stroke-width="0.7"/>
<line x1="381.1" y1="325.7" x2="385.3" y2="325.7" stroke="#333" stroke-width="0.9"/>
<text x="378" y="329.9" text-anchor="end" font-size="9.2" stroke="#000" stroke-width="0.25">175</text>
<rect x="389.5" y="405.5" width="12" height="87.1" fill="#000"/>
<rect x="401.8" y="414.55" width="11.4" height="78.05" fill="url(#h)" stroke="#111" stroke-width="0.6"/>
<text transform="translate(409.9,506.2) rotate(-43)" text-anchor="end" font-size="13.2" stroke="#000" stroke-width="0.25" font-weight="bold">MLV-A</text>
<rect x="422.5" y="401.25" width="12" height="91.35" fill="#000"/>
<rect x="434.8" y="393.3" width="11.4" height="99.3" fill="url(#h)" stroke="#111" stroke-width="0.6"/>
<text transform="translate(442.9,506.2) rotate(-43)" text-anchor="end" font-size="13.2" stroke="#000" stroke-width="0.25" font-weight="bold">GALV/TR</text>
<rect x="455.75" y="349.25" width="12" height="143.35" fill="#000"/>
<rect x="468.05" y="372.55" width="11.4" height="120.05" fill="url(#h)" stroke="#111" stroke-width="0.6"/>
<text transform="translate(476.15,506.2) rotate(-43)" text-anchor="end" font-size="13.2" stroke="#000" stroke-width="0.25" font-weight="bold">RD114/TR</text>
<rect x="488.75" y="431" width="12" height="61.6" fill="#000"/>
<rect x="501.05" y="487" width="11.4" height="5.6" fill="url(#h)" stroke="#111" stroke-width="0.6"/>
<text transform="translate(509.15,506.2) rotate(-43)" text-anchor="end" font-size="13.2" stroke="#000" stroke-width="0.25" font-weight="bold">VSV-G</text>
</g>
</svg></body></html>
